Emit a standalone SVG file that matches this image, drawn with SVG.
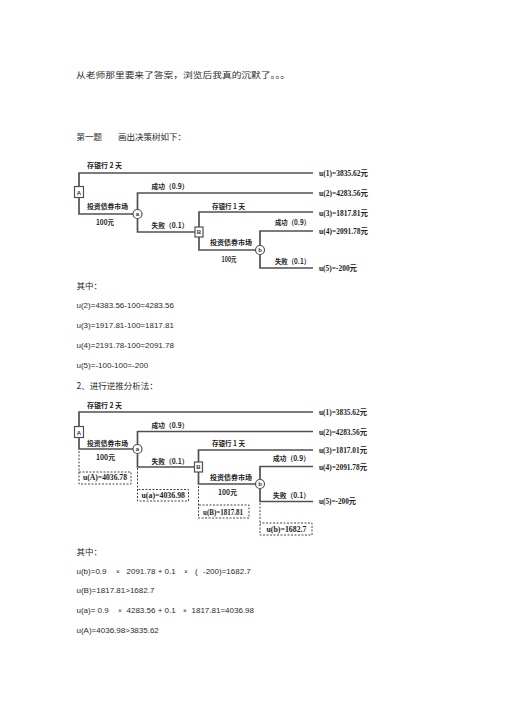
<svg xmlns="http://www.w3.org/2000/svg" width="505" height="714" viewBox="0 0 505 714">
<style>
.body{font-family:"Noto Sans CJK SC","Liberation Sans",sans-serif;font-size:8.5px;fill:#2a2a2a}
.eq{font-family:"Liberation Sans",Arial,sans-serif;font-size:8px;fill:#2a2a2a}
.lbl{font-family:"Noto Sans CJK SC",sans-serif;font-size:7px;font-weight:bold;fill:#222}
.num{font-family:"Liberation Serif","Noto Sans CJK SC",serif;font-size:7.5px;font-weight:bold;fill:#222}
.u{font-family:"Liberation Serif","Noto Sans CJK SC",serif;font-size:7.5px;font-weight:bold;fill:#222}
.ln{stroke:#505050;stroke-width:1.7;fill:none}
.dash{stroke:#444;stroke-width:1;stroke-dasharray:2 1.5;fill:none}
.box{fill:#fff;stroke:#505050;stroke-width:1.2}
.tiny{font-family:"Liberation Sans",sans-serif;font-size:6px;font-weight:bold;fill:#333;text-anchor:middle}
</style>
<rect width="505" height="714" fill="#fff"/>

<g id="text-body">
<text class="body" x="76" y="78" font-size="9" textLength="214" lengthAdjust="spacingAndGlyphs">从老师那里要来了答案，浏览后我真的沉默了。。。</text>
<text class="body" x="76.5" y="140">第一题</text>
<text class="body" x="118" y="140">画出决策树如下：</text>
<text class="body" x="76.5" y="289" font-size="7.5">其中：</text>
<text class="eq" x="76.5" y="308">u(2)=4383.56-100=4283.56</text>
<text class="eq" x="76.5" y="327.5">u(3)=1917.81-100=1817.81</text>
<text class="eq" x="76.5" y="347.5">u(4)=2191.78-100=2091.78</text>
<text class="eq" x="76.5" y="368">u(5)=-100-100=-200</text>
<text class="body" x="76.5" y="389" font-size="7.5">2、进行逆推分析法：</text>
<text class="body" x="76.5" y="555" font-size="7.5">其中：</text>
<text class="eq" y="574"><tspan x="76.5">u(b)=0.9</tspan><tspan x="116" font-size="6.5">×</tspan><tspan x="126.5">2091.78 + 0.1</tspan><tspan x="184" font-size="6.5">×</tspan><tspan x="195">(</tspan><tspan x="203">-200)=1682.7</tspan></text>
<text class="eq" x="76.5" y="593">u(B)=1817.81&gt;1682.7</text>
<text class="eq" y="613"><tspan x="76.5">u(a)= 0.9</tspan><tspan x="118" font-size="6.5">×</tspan><tspan x="126.5">4283.56 + 0.1</tspan><tspan x="183" font-size="6.5">×</tspan><tspan x="191.5">1817.81=4036.98</tspan></text>
<text class="eq" x="76.5" y="633">u(A)=4036.98&gt;3835.62</text>
</g>

<!-- Tree 1 -->
<g id="tree1-connectors">
<path class="ln" d="M79,186.5 V173 H313"/>
<path class="ln" d="M79,197.5 V214 H133"/>
<path class="ln" d="M137.5,209.5 V193 H313"/>
<path class="ln" d="M137.5,218.5 V232 H195"/>
<path class="ln" d="M199,227 V212 H313"/>
<path class="ln" d="M199,237 V250 H255.5"/>
<path class="ln" d="M260,245.5 V231 H313"/>
<path class="ln" d="M260,254.5 V268 H313"/>
</g>
<g id="tree1-A"><rect class="box" x="74.5" y="186.5" width="9" height="11"/><text class="tiny" x="79" y="194.5">A</text></g>
<g id="tree1-a"><circle class="box" cx="137.5" cy="214" r="4.5"/><text class="tiny" x="137.5" y="216">a</text></g>
<g id="tree1-B"><rect class="box" x="195" y="227" width="8" height="10"/><text class="tiny" x="199" y="234.2">B</text></g>
<g id="tree1-b"><circle class="box" cx="260" cy="250" r="4.5"/><text class="tiny" x="260" y="252">b</text></g>
<g id="tree1-labels">
<text class="lbl" x="87" y="168" textLength="35" lengthAdjust="spacingAndGlyphs">存银行 2 天</text>
<text class="lbl" x="87" y="208.5" textLength="41" lengthAdjust="spacingAndGlyphs">投资债券市场</text>
<text class="lbl" x="96" y="224.5" textLength="18" lengthAdjust="spacingAndGlyphs">100元</text>
<text class="lbl" x="151.5" y="188.5" textLength="37" lengthAdjust="spacingAndGlyphs">成功（0.9）</text>
<text class="lbl" x="151.5" y="228" textLength="37" lengthAdjust="spacingAndGlyphs">失败（0.1）</text>
<text class="lbl" x="212" y="209" textLength="33" lengthAdjust="spacingAndGlyphs">存银行 1 天</text>
<text class="lbl" x="210" y="244.5" textLength="42" lengthAdjust="spacingAndGlyphs">投资债券市场</text>
<text class="lbl" x="221.5" y="262" textLength="15" lengthAdjust="spacingAndGlyphs">100元</text>
<text class="lbl" x="275" y="224.5" textLength="35" lengthAdjust="spacingAndGlyphs">成功（0.9）</text>
<text class="lbl" x="275" y="264" textLength="35" lengthAdjust="spacingAndGlyphs">失败（0.1）</text>
</g>
<g id="tree1-u1"><text class="u" x="319" y="175.5" textLength="49" lengthAdjust="spacingAndGlyphs">u(1)=3835.62元</text></g>
<g id="tree1-u2"><text class="u" x="319" y="196" textLength="49" lengthAdjust="spacingAndGlyphs">u(2)=4283.56元</text></g>
<g id="tree1-u3"><text class="u" x="319" y="216" textLength="49" lengthAdjust="spacingAndGlyphs">u(3)=1817.81元</text></g>
<g id="tree1-u4"><text class="u" x="319" y="234" textLength="49" lengthAdjust="spacingAndGlyphs">u(4)=2091.78元</text></g>
<g id="tree1-u5"><text class="u" x="319" y="270.5" textLength="38" lengthAdjust="spacingAndGlyphs">u(5)=-200元</text></g>

<!-- Tree 2 -->
<g id="tree2-connectors">
<path class="ln" d="M79,426.5 V412 H313"/>
<path class="ln" d="M79,437.5 V449 H133"/>
<path class="ln" d="M137.5,444.5 V431.5 H313"/>
<path class="ln" d="M137.5,453.5 V467 H194.5"/>
<path class="ln" d="M198.5,462 V450 H313"/>
<path class="ln" d="M198.5,472 V484 H255.5"/>
<path class="ln" d="M260,479.5 V466.5 H313"/>
<path class="ln" d="M260,488.5 V501.5 H313"/>
</g>
<g id="tree2-A"><rect class="box" x="74.5" y="426.5" width="9" height="11"/><text class="tiny" x="79" y="434.5">A</text></g>
<g id="tree2-a"><circle class="box" cx="137.5" cy="449" r="4.5"/><text class="tiny" x="137.5" y="451">a</text></g>
<g id="tree2-B"><rect class="box" x="194.5" y="462" width="8" height="10"/><text class="tiny" x="198.5" y="469.2">B</text></g>
<g id="tree2-b"><circle class="box" cx="260" cy="484" r="4.5"/><text class="tiny" x="260" y="486">b</text></g>
<g id="tree2-labels">
<text class="lbl" x="87" y="407.5" textLength="35" lengthAdjust="spacingAndGlyphs">存银行 2 天</text>
<text class="lbl" x="151.5" y="427.5" textLength="37" lengthAdjust="spacingAndGlyphs">成功（0.9）</text>
<text class="lbl" x="87" y="445.5" textLength="41" lengthAdjust="spacingAndGlyphs">投资债券市场</text>
<text class="lbl" x="96" y="459.5" textLength="19" lengthAdjust="spacingAndGlyphs">100元</text>
<text class="lbl" x="151.5" y="463.5" textLength="37" lengthAdjust="spacingAndGlyphs">失败（0.1）</text>
<text class="lbl" x="212" y="446" textLength="33" lengthAdjust="spacingAndGlyphs">存银行 1 天</text>
<text class="lbl" x="210" y="479.5" textLength="42" lengthAdjust="spacingAndGlyphs">投资债券市场</text>
<text class="lbl" x="218" y="494.5" textLength="19" lengthAdjust="spacingAndGlyphs">100元</text>
<text class="lbl" x="273" y="461" textLength="37" lengthAdjust="spacingAndGlyphs">成功（0.9）</text>
<text class="lbl" x="273" y="498" textLength="37" lengthAdjust="spacingAndGlyphs">失败（0.1）</text>
</g>
<g id="tree2-u1"><text class="u" x="319" y="415" textLength="48" lengthAdjust="spacingAndGlyphs">u(1)=3835.62元</text></g>
<g id="tree2-u2"><text class="u" x="319" y="434.5" textLength="48" lengthAdjust="spacingAndGlyphs">u(2)=4283.56元</text></g>
<g id="tree2-u3"><text class="u" x="319" y="453" textLength="48" lengthAdjust="spacingAndGlyphs">u(3)=1817.01元</text></g>
<g id="tree2-u4"><text class="u" x="319" y="469.5" textLength="48" lengthAdjust="spacingAndGlyphs">u(4)=2091.78元</text></g>
<g id="tree2-u5"><text class="u" x="319" y="504" textLength="37" lengthAdjust="spacingAndGlyphs">u(5)=-200元</text></g>

<g id="tree2-uA"><path class="dash" d="M79,451 V484 H131 V472 H79"/><text class="num" x="83" y="480" textLength="44" lengthAdjust="spacingAndGlyphs">u(A)=4036.78</text></g>
<g id="tree2-ua"><path class="dash" d="M137.5,468 V501 H188.5 V489.5 H137.5"/><text class="num" x="141.5" y="497.5" textLength="43.5" lengthAdjust="spacingAndGlyphs">u(a)=4036.98</text></g>
<g id="tree2-uB"><path class="dash" d="M198.5,486 V518 H249 V505 H198.5"/><text class="num" x="203" y="514.5" textLength="40" lengthAdjust="spacingAndGlyphs">u(B)=1817.81</text></g>
<g id="tree2-ub"><path class="dash" d="M260,503 V535 H312 V523 H260"/><text class="num" x="266.5" y="531.5" textLength="40" lengthAdjust="spacingAndGlyphs">u(b)=1682.7</text></g>
</svg>
